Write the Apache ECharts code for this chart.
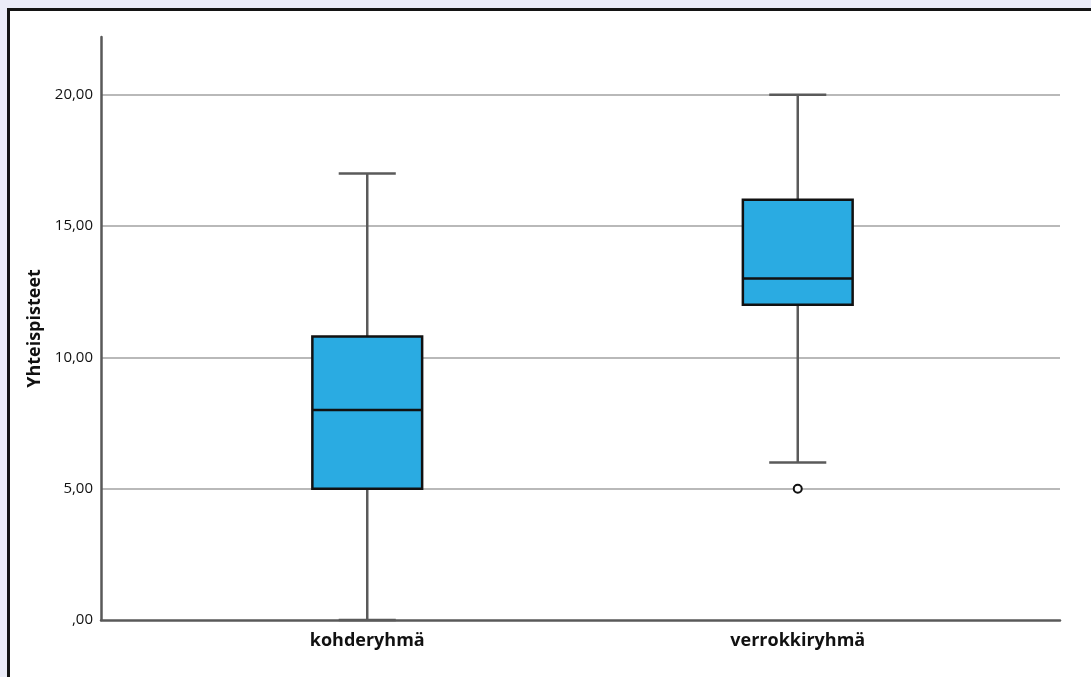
<!DOCTYPE html>
<html>
<head>
<meta charset="utf-8">
<script src="https://cdn.jsdelivr.net/npm/echarts@6/dist/echarts.min.js"></script>
<style>
  html, body { margin: 0; padding: 0; background: #ebecf8; }
  #frame { position: absolute; left: 7px; top: 8px; width: 1200px; height: 800px; background: #fff; border: 3px solid #141414; box-sizing: border-box; }
  #chart { position: absolute; left: 0; top: 0; width: 1091px; height: 677px; }
</style>
</head>
<body>
<div id="frame"></div>
<div id="chart"></div>
<script>
// Data
const categories = ['kohderyhmä', 'verrokkiryhmä'];
const whiskerLow = [0, 6];
const quartile1 = [5, 12];
const medians = [8, 13];
const quartile3 = [10.8, 16];
const whiskerHigh = [17, 20];
const outliers = [[1, 5]];
const yTicks = [0, 5, 10, 15, 20];

const boxData = categories.map((c, i) => [i, whiskerLow[i], quartile1[i], medians[i], quartile3[i], whiskerHigh[i]]);

function fmt(v) {
  if (yTicks.indexOf(v) < 0) return '';
  const s = v.toFixed(2).replace('.', ',');
  return s.startsWith('0,') ? s.slice(1) : s;
}

const WHISKER = '#5a5a5a';
const chart = echarts.init(document.getElementById('chart'));
chart.setOption({
  backgroundColor: 'transparent',
  animation: false,
  textStyle: { fontFamily: 'Open Sans' },
  grid: [
    { left: 101, right: 31, top: 37, bottom: 57 },
    { left: 152, right: 78, top: 37, bottom: 57 }
  ],
  xAxis: [
    {
      gridIndex: 0, type: 'value', min: 0, max: 1,
      axisLine: { show: true, lineStyle: { color: '#595959', width: 2.5 } },
      axisTick: { show: false }, axisLabel: { show: false }, splitLine: { show: false }
    },
    {
      gridIndex: 1, type: 'category', data: categories,
      axisLine: { show: false }, axisTick: { show: false }, splitLine: { show: false },
      axisLabel: { fontFamily: 'Open Sans', fontWeight: 'bold', fontSize: 18, color: '#111', margin: 12 }
    }
  ],
  yAxis: [
    {
      gridIndex: 0, type: 'value', min: 0, max: 22.2, interval: 5,
      name: 'Yhteispisteet', nameLocation: 'middle', nameGap: 56,
      nameTextStyle: { fontFamily: 'Open Sans', fontWeight: 'bold', fontSize: 18, color: '#111' },
      axisLine: { show: true, lineStyle: { color: '#595959', width: 2.5 } },
      axisTick: { show: false },
      axisLabel: { formatter: fmt, fontFamily: 'Open Sans', fontSize: 15, color: '#111', margin: 8, showMaxLabel: false },
      splitLine: { show: true, showMinLine: false, showMaxLine: false, lineStyle: { color: '#b9b9b9', width: 2 } }
    },
    { gridIndex: 1, type: 'value', min: 0, max: 22.2, show: false }
  ],
  series: [
    {
      type: 'custom',
      xAxisIndex: 1, yAxisIndex: 1,
      data: boxData,
      encode: { x: 0, y: [1, 2, 3, 4, 5] },
      renderItem: function (params, api) {
        const xi = api.value(0);
        const cx = api.coord([xi, 0])[0];
        const y = [1, 2, 3, 4, 5].map(d => api.coord([xi, api.value(d)])[1]);
        const band = api.size([1, 0])[0];
        const bw = band * 0.255;
        const cw = bw * 0.52;
        const wStyle = { stroke: WHISKER, lineWidth: 2.5 };
        return {
          type: 'group',
          children: [
            { type: 'line', shape: { x1: cx, y1: y[0], x2: cx, y2: y[1] }, style: wStyle },
            { type: 'line', shape: { x1: cx, y1: y[3], x2: cx, y2: y[4] }, style: wStyle },
            { type: 'line', shape: { x1: cx - cw / 2, y1: y[0], x2: cx + cw / 2, y2: y[0] }, style: wStyle },
            { type: 'line', shape: { x1: cx - cw / 2, y1: y[4], x2: cx + cw / 2, y2: y[4] }, style: wStyle },
            { type: 'rect', shape: { x: cx - bw / 2, y: y[3], width: bw, height: y[1] - y[3] },
              style: { fill: '#2aabe2', stroke: '#111', lineWidth: 2.5 } },
            { type: 'line', shape: { x1: cx - bw / 2, y1: y[2], x2: cx + bw / 2, y2: y[2] },
              style: { stroke: '#111', lineWidth: 2.5 } }
          ]
        };
      }
    },
    {
      type: 'scatter',
      xAxisIndex: 1, yAxisIndex: 1,
      data: outliers,
      symbol: 'circle', symbolSize: 8,
      itemStyle: { color: '#fff', borderColor: '#111', borderWidth: 2, opacity: 1 }
    }
  ]
});
</script>
</body>
</html>
